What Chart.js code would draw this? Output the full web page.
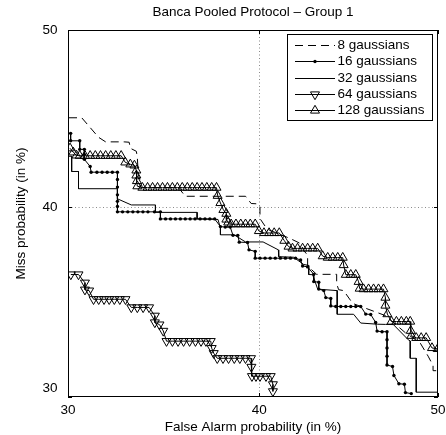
<!DOCTYPE html>
<html>
<head>
<meta charset="utf-8">
<script src="https://cdn.jsdelivr.net/npm/chart.js@4/dist/chart.umd.min.js"></script>
<style>
  html, body { margin: 0; padding: 0; background: #fff; }
</style>
</head>
<body>
<canvas id="detChart" width="446" height="435"></canvas>
<script>
const TITLE = "Banca Pooled Protocol \u2013 Group 1";
const X_TITLE = "False Alarm probability (in %)";
const Y_TITLE = "Miss probability (in %)";
const TICKS = [30, 40, 50];
const seriesNames = ["8 gaussians", "16 gaussians", "32 gaussians", "64 gaussians", "128 gaussians"];

// false alarm (%) / miss (%) pairs
const fa8 = [30.05, 30.68, 31.52, 31.88, 32.82, 33.08, 33.14, 33.45, 33.50, 33.55, 33.76, 35.65, 36.01, 39.25, 39.56, 39.93, 40.04, 40.04, 40.43, 41.72, 42.28, 42.45, 42.67, 42.67, 43.17, 44.29, 44.29, 44.40, 44.68, 45.19, 47.03, 48.15, 48.99, 49.44, 49.72, 49.72, 49.99];
const miss8 = [45.01, 45.01, 43.91, 43.65, 43.65, 43.63, 43.29, 43.12, 42.78, 41.82, 41.09, 41.09, 40.61, 40.61, 40.21, 40.19, 40.02, 39.38, 38.80, 38.28, 38.01, 37.64, 37.38, 36.80, 36.35, 36.35, 35.85, 35.53, 35.48, 34.80, 34.16, 33.27, 32.74, 32.06, 31.58, 31.32, 31.32];

const fa16 = [30.13, 30.13, 30.58, 30.58, 30.81, 30.81, 30.81, 31.10, 31.15, 31.44, 31.70, 31.96, 32.22, 32.48, 32.48, 32.48, 32.48, 32.48, 32.48, 32.48, 32.74, 33.01, 33.27, 33.53, 33.79, 34.05, 34.39, 34.70, 34.70, 34.97, 35.23, 35.49, 35.75, 36.01, 36.27, 36.53, 36.80, 37.06, 37.32, 37.58, 37.89, 38.15, 38.42, 38.57, 38.83, 38.91, 39.36, 39.44, 39.78, 39.78, 40.04, 40.32, 40.60, 40.88, 41.16, 41.44, 41.72, 42.00, 42.28, 42.39, 42.67, 43.01, 43.01, 43.29, 43.29, 43.57, 43.68, 43.96, 43.96, 44.24, 44.52, 44.80, 45.08, 45.36, 45.64, 45.92, 46.20, 46.48, 46.56, 46.84, 47.12, 47.12, 47.12, 47.12, 47.12, 47.43, 47.51, 47.79, 48.10, 48.16, 48.49];
const miss16 = [44.13, 43.71, 43.71, 43.23, 43.23, 42.95, 42.67, 42.27, 41.95, 41.95, 41.95, 41.95, 41.95, 41.95, 41.54, 41.12, 40.69, 40.33, 40.05, 39.75, 39.75, 39.75, 39.75, 39.75, 39.75, 39.75, 39.75, 39.75, 39.36, 39.36, 39.36, 39.36, 39.36, 39.36, 39.36, 39.36, 39.36, 39.36, 39.36, 39.36, 38.94, 38.91, 38.91, 38.46, 38.46, 38.09, 38.07, 37.67, 37.59, 37.22, 37.22, 37.22, 37.22, 37.22, 37.22, 37.22, 37.22, 37.22, 37.12, 36.80, 36.75, 36.35, 35.96, 35.93, 35.56, 35.48, 35.11, 35.06, 34.67, 34.64, 34.64, 34.64, 34.64, 34.64, 34.64, 34.24, 34.22, 33.80, 33.35, 33.32, 33.32, 32.90, 32.48, 32.06, 31.61, 31.53, 31.08, 30.66, 30.64, 30.22, 30.17];

const fa32 = [30.03, 30.18, 30.18, 30.52, 30.52, 32.48, 32.48, 33.19, 34.44, 34.44, 36.64, 36.64, 37.76, 37.89, 37.89, 38.63, 39.25, 40.21, 41.05, 41.07, 41.89, 42.45, 42.73, 42.73, 42.95, 43.23, 44.32, 44.32, 45.24, 45.64, 46.59, 47.03, 47.48, 48.32, 48.43, 48.43, 48.77, 48.77, 49.99];
const miss32 = [42.84, 42.84, 41.99, 41.99, 41.03, 41.03, 40.47, 40.13, 40.13, 39.72, 39.72, 39.36, 39.33, 38.86, 38.49, 38.49, 38.10, 38.10, 37.67, 37.30, 37.27, 36.88, 36.83, 36.34, 36.33, 35.56, 35.48, 34.23, 34.23, 33.77, 33.71, 33.70, 33.69, 32.90, 32.84, 31.95, 31.95, 30.24, 30.24];

const fa64 = [30.14, 30.52, 30.84, 30.84, 31.05, 31.27, 31.53, 31.80, 32.06, 32.32, 32.60, 32.89, 33.19, 33.50, 33.80, 34.11, 34.41, 34.41, 34.65, 34.85, 35.02, 35.33, 35.63, 35.92, 36.24, 36.55, 36.85, 37.11, 37.37, 37.42, 37.53, 37.72, 38.03, 38.33, 38.64, 38.94, 39.25, 39.55, 39.57, 39.60, 39.82, 40.04, 40.37, 40.63, 40.75, 40.75];
const miss64 = [36.34, 36.34, 35.90, 35.53, 35.48, 35.02, 35.02, 35.02, 35.02, 35.02, 35.02, 35.02, 34.59, 34.59, 34.59, 34.59, 34.15, 33.80, 33.69, 33.36, 32.83, 32.83, 32.83, 32.83, 32.83, 32.83, 32.83, 32.83, 32.83, 32.47, 32.21, 31.95, 31.95, 31.95, 31.95, 31.95, 31.95, 31.95, 31.51, 31.04, 31.04, 31.04, 31.04, 31.04, 30.63, 30.28];

const fa128 = [30.10, 30.26, 30.42, 30.58, 30.84, 31.10, 31.36, 31.62, 31.88, 32.14, 32.40, 32.67, 32.88, 33.14, 33.35, 33.45, 33.45, 33.48, 33.50, 33.76, 34.03, 34.29, 34.55, 34.81, 35.07, 35.33, 35.59, 35.85, 36.12, 36.38, 36.64, 36.90, 37.16, 37.42, 37.68, 37.74, 37.89, 38.05, 38.21, 38.21, 38.31, 38.47, 38.73, 38.99, 39.25, 39.51, 39.78, 39.98, 40.26, 40.54, 40.82, 41.10, 41.38, 41.61, 41.83, 42.11, 42.39, 42.67, 42.95, 43.23, 43.51, 43.79, 44.07, 44.35, 44.63, 44.68, 44.80, 45.08, 45.36, 45.52, 45.58, 45.80, 46.08, 46.36, 46.64, 46.92, 47.03, 47.03, 47.14, 47.37, 47.65, 47.93, 48.21, 48.43, 48.46, 48.49, 48.77, 49.05, 49.33, 49.66, 49.98];
const miss128 = [43.29, 43.06, 42.89, 42.87, 42.87, 42.87, 42.87, 42.87, 42.87, 42.87, 42.87, 42.87, 42.50, 42.39, 42.33, 42.05, 41.77, 41.46, 41.17, 41.09, 41.09, 41.09, 41.09, 41.09, 41.09, 41.09, 41.09, 41.09, 41.09, 41.09, 41.09, 41.09, 41.09, 41.09, 41.09, 40.64, 40.24, 39.86, 39.65, 39.33, 39.17, 39.07, 39.07, 39.07, 39.07, 39.07, 39.07, 38.70, 38.59, 38.59, 38.59, 38.59, 38.17, 37.85, 37.75, 37.75, 37.75, 37.75, 37.75, 37.75, 37.33, 37.25, 37.25, 37.25, 37.25, 36.85, 36.33, 36.33, 36.33, 35.95, 35.59, 35.56, 35.56, 35.56, 35.56, 35.56, 35.11, 34.69, 34.24, 33.85, 33.85, 33.85, 33.85, 33.85, 33.37, 33.11, 33.00, 33.00, 33.00, 32.48, 32.43];

const FONT = '"Liberation Sans", Arial, Helvetica, sans-serif';
const FONT_SIZE = 13.5;

// inverse of the standard normal CDF (Acklam)
function probit(p) {
  const a = [-39.69683028665376, 220.9460984245205, -275.9285104469687, 138.3577518672690, -30.66479806614716, 2.506628277459239];
  const b = [-54.47609879822406, 161.5858368580409, -155.6989798598866, 66.80131188771972, -13.28068155288572];
  const c = [-0.007784894002430293, -0.3223964580411365, -2.400758277161838, -2.549732539343734, 4.374664141464968, 2.938163982698783];
  const d = [0.007784695709041462, 0.3224671290700398, 2.445134137142996, 3.754408661907416];
  const lo = 0.02425;
  if (p < lo) {
    const q = Math.sqrt(-2 * Math.log(p));
    return (((((c[0] * q + c[1]) * q + c[2]) * q + c[3]) * q + c[4]) * q + c[5]) / ((((d[0] * q + d[1]) * q + d[2]) * q + d[3]) * q + 1);
  }
  if (p > 1 - lo) return -probit(1 - p);
  const q = p - 0.5, r = q * q;
  return (((((a[0] * r + a[1]) * r + a[2]) * r + a[3]) * r + a[4]) * r + a[5]) * q / (((((b[0] * r + b[1]) * r + b[2]) * r + b[3]) * r + b[4]) * r + 1);
}

function normCdf(z) {
  const t = 1 / (1 + 0.2316419 * Math.abs(z));
  const dens = 0.3989423 * Math.exp(-z * z / 2);
  const p = dens * t * (0.3193815 + t * (-0.3565638 + t * (1.781478 + t * (-1.821256 + t * 1.330274))));
  return z > 0 ? 1 - p : p;
}

// normal-deviate axis, as used by DET plots
class ProbitScale extends Chart.Scale {
  static id = "probit";
  static defaults = {};

  determineDataLimits() {
    this.min = this.options.min;
    this.max = this.options.max;
  }
  buildTicks() {
    return TICKS.map(v => ({ value: v }));
  }
  getLabelForValue(v) {
    return String(v);
  }
  configure() {
    super.configure();
    this._zMin = probit(this.min / 100);
    this._zMax = probit(this.max / 100);
  }
  getPixelForValue(v) {
    return this.getPixelForDecimal((probit(v / 100) - this._zMin) / (this._zMax - this._zMin));
  }
  getValueForPixel(px) {
    const dec = this.getDecimalForPixel(px);
    return 100 * normCdf(this._zMin + dec * (this._zMax - this._zMin));
  }
  // lift the lowest y label clear of the x labels, like the original
  _computeLabelItems(chartArea) {
    const items = super._computeLabelItems(chartArea);
    if (!this.isHorizontal()) {
      items.forEach((it, i) => {
        const t = it.options && it.options.translation;
        if (t && this.ticks[i] && this.ticks[i].value === this.min) {
          it.options.translation = [t[0], t[1] - 9];
        }
      });
    }
    return items;
  }
}
Chart.register(ProbitScale);

Chart.defaults.font.family = FONT;
Chart.defaults.font.size = FONT_SIZE;
Chart.defaults.color = "#000";

function pts(xs, ys) {
  return xs.map((x, i) => ({ x, y: ys[i] }));
}

const baseStyle = {
  borderColor: "#000",
  borderWidth: 1,
  backgroundColor: "rgba(0,0,0,0)",
  pointBorderColor: "#000",
  pointBorderWidth: 1,
  pointBackgroundColor: "rgba(0,0,0,0)",
  tension: 0,
  fill: false
};

const datasets = [
  { label: seriesNames[0], data: pts(fa8, miss8), borderDash: [8, 5], pointRadius: 0 },
  { label: seriesNames[1], data: pts(fa16, miss16), pointStyle: "circle", pointRadius: 1.7, pointBorderWidth: 0, pointBackgroundColor: "#000" },
  { label: seriesNames[2], data: pts(fa32, miss32), pointRadius: 0 },
  { label: seriesNames[3], data: pts(fa64, miss64), pointStyle: "triangle", pointRotation: 180, pointRadius: 5.2 },
  { label: seriesNames[4], data: pts(fa128, miss128), pointStyle: "triangle", pointRotation: 0, pointRadius: 5.2 }
].map(d => Object.assign({}, baseStyle, d));

const gridColor = ctx => (ctx.tick && ctx.tick.value === 40 ? "#8a8a8a" : "rgba(0,0,0,0)");

// title centred over the plot box
const titlePlugin = {
  id: "plotTitle",
  afterDraw(chart) {
    const { ctx, chartArea: a } = chart;
    ctx.save();
    ctx.font = `${FONT_SIZE}px ${FONT}`;
    ctx.fillStyle = "#000";
    ctx.textAlign = "center";
    ctx.textBaseline = "middle";
    ctx.fillText(TITLE, (a.left + a.right) / 2, 12);
    ctx.restore();
  }
};

// box around the axes plus inward tick marks
const framePlugin = {
  id: "frame",
  afterDatasetsDraw(chart) {
    const { ctx, chartArea: a, scales } = chart;
    ctx.save();
    ctx.strokeStyle = "#000";
    ctx.lineWidth = 1;
    ctx.strokeRect(Math.round(a.left) + 0.5, Math.round(a.top) + 0.5, Math.round(a.width) - 1, Math.round(a.height) - 1);
    ctx.beginPath();
    TICKS.forEach(v => {
      const x = Math.round(scales.x.getPixelForValue(v)) + 0.5;
      const y = Math.round(scales.y.getPixelForValue(v)) + 0.5;
      ctx.moveTo(x, a.bottom); ctx.lineTo(x, a.bottom - 4);
      ctx.moveTo(x, a.top); ctx.lineTo(x, a.top + 4);
      ctx.moveTo(a.left, y); ctx.lineTo(a.left + 4, y);
      ctx.moveTo(a.right, y); ctx.lineTo(a.right - 4, y);
    });
    ctx.stroke();
    ctx.restore();
  }
};

// boxed legend in the upper right corner, line sample with marker
const legendPlugin = {
  id: "boxLegend",
  afterDraw(chart) {
    const { ctx, chartArea: a } = chart;
    const w = 145, h = 86, rowH = 16.25;
    const x0 = Math.round(a.right - 6 - w), y0 = Math.round(a.top + 4);
    ctx.save();
    ctx.fillStyle = "#fff";
    ctx.fillRect(x0, y0, w, h);
    ctx.strokeStyle = "#000";
    ctx.lineWidth = 1;
    ctx.strokeRect(x0 + 0.5, y0 + 0.5, w, h);
    ctx.font = `${FONT_SIZE}px ${FONT}`;
    ctx.textAlign = "left";
    ctx.textBaseline = "middle";
    chart.data.datasets.forEach((ds, i) => {
      const y = Math.round(y0 + 11 + i * rowH) + 0.5;
      const lx0 = x0 + 8, lx1 = x0 + 48;
      ctx.strokeStyle = "#000";
      ctx.lineWidth = ds.borderWidth;
      ctx.setLineDash(ds.borderDash || []);
      ctx.beginPath();
      ctx.moveTo(lx0, y);
      ctx.lineTo(lx1, y);
      ctx.stroke();
      ctx.setLineDash([]);
      if (ds.pointRadius > 0) {
        ctx.fillStyle = ds.pointBackgroundColor;
        ctx.lineWidth = ds.pointBorderWidth;
        Chart.helpers.drawPoint(ctx, {
          pointStyle: ds.pointStyle,
          rotation: ds.pointRotation || 0,
          radius: ds.pointRadius,
          borderWidth: ds.pointBorderWidth
        }, (lx0 + lx1) / 2, y);
      }
      ctx.fillStyle = "#000";
      ctx.fillText(ds.label, x0 + 50.5, y);
    });
    ctx.restore();
  }
};

const noPad = s => {
  s.paddingLeft = 0;
  s.paddingRight = 0;
  s.paddingTop = 0;
  s.paddingBottom = 0;
};

const chart = new Chart(document.getElementById("detChart"), {
  type: "line",
  data: { datasets },
  options: {
    responsive: false,
    animation: false,
    events: [],
    layout: { padding: { top: 30, right: 8, left: 0, bottom: 0 } },
    plugins: {
      legend: { display: false },
      tooltip: { enabled: false },
      title: { display: false }
    },
    scales: {
      x: {
        type: "probit",
        min: 30,
        max: 50,
        grid: { color: gridColor, lineWidth: 1, drawTicks: false, borderDash: [1, 2.5] },
        border: { display: false, dash: [1, 2.5] },
        ticks: { padding: 5, maxRotation: 0, autoSkip: false },
        title: { display: true, text: X_TITLE, padding: { top: 0, bottom: 0 } },
        afterFit: s => { s.height = 38; noPad(s); }
      },
      y: {
        type: "probit",
        min: 30,
        max: 50,
        grid: { color: gridColor, lineWidth: 1, drawTicks: false, borderDash: [1, 2.5] },
        border: { display: false, dash: [1, 2.5] },
        ticks: { padding: 10.5, autoSkip: false },
        title: { display: true, text: Y_TITLE, padding: { top: 13, bottom: 0 } },
        afterFit: s => { s.width = 68; noPad(s); }
      }
    }
  },
  plugins: [framePlugin, titlePlugin, legendPlugin]
});
</script>
</body>
</html>
